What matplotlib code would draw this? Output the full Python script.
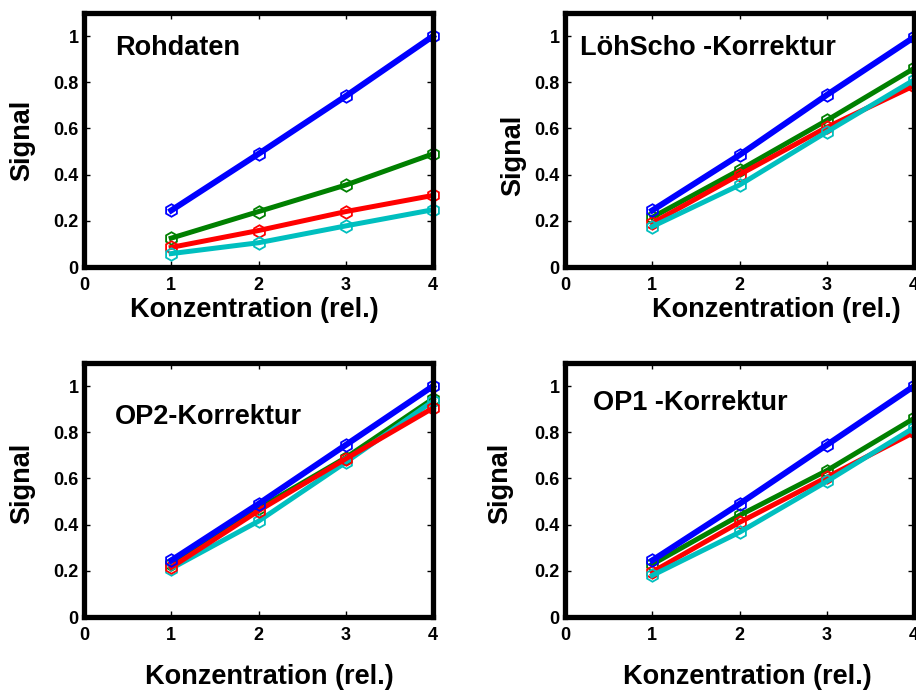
import numpy as np
import matplotlib.pyplot as plt

plt.rcParams['font.family'] = ['Liberation Sans', 'DejaVu Sans']
plt.rcParams['font.weight'] = 'bold'

konz = [1, 2, 3, 4]

# Rohdaten
roh_blau = [0.245, 0.49, 0.74, 1.0]
roh_gruen = [0.125, 0.24, 0.355, 0.49]
roh_rot = [0.085, 0.158, 0.24, 0.31]
roh_cyan = [0.058, 0.105, 0.178, 0.248]

# LoehScho-Korrektur
ls_blau = [0.245, 0.485, 0.745, 0.995]
ls_gruen = [0.215, 0.42, 0.635, 0.86]
ls_rot = [0.19, 0.40, 0.605, 0.785]
ls_cyan = [0.175, 0.355, 0.585, 0.81]

# OP2-Korrektur
op2_blau = [0.245, 0.49, 0.745, 1.0]
op2_gruen = [0.23, 0.47, 0.69, 0.945]
op2_rot = [0.215, 0.46, 0.685, 0.905]
op2_cyan = [0.21, 0.415, 0.67, 0.935]

# OP1-Korrektur
op1_blau = [0.245, 0.49, 0.745, 1.0]
op1_gruen = [0.228, 0.44, 0.634, 0.86]
op1_rot = [0.195, 0.41, 0.605, 0.80]
op1_cyan = [0.18, 0.367, 0.587, 0.82]

titel = ["Rohdaten", "LöhScho -Korrektur", "OP2-Korrektur", "OP1 -Korrektur"]

blau, gruen, rot, cyan = (0, 0, 1), (0, 0.5, 0), (1, 0, 0), (0, 0.75, 0.75)

W, H = 916, 693
fig = plt.figure(figsize=(W / 100, H / 100), dpi=100)

# axes boxes in pixels: left, top, right, bottom
boxen = [(84, 13, 433, 267), (565, 13, 914, 267),
         (84, 363, 433, 617), (565, 363, 914, 617)]

daten = [
    [(roh_gruen, gruen), (roh_rot, rot), (roh_cyan, cyan), (roh_blau, blau)],
    [(ls_gruen, gruen), (ls_rot, rot), (ls_cyan, cyan), (ls_blau, blau)],
    [(op2_gruen, gruen), (op2_cyan, cyan), (op2_rot, rot), (op2_blau, blau)],
    [(op1_gruen, gruen), (op1_rot, rot), (op1_cyan, cyan), (op1_blau, blau)],
]

titel_pos = [(115, 48), (580, 48), (115, 417), (593, 403)]
xlabel_pos = [(254, 310), (776, 310), (269, 677), (747, 677)]
ylabel_pos = [(22, 140), (513, 155), (22, 483), (500, 483)]

for i, (l, t, r, b) in enumerate(boxen):
    ax = fig.add_axes([l / W, (H - b) / H, (r - l) / W, (b - t) / H])
    for werte, farbe in daten[i]:
        lw = 4.3 if farbe == blau else 3.6
        ax.plot(konz, werte, color=farbe, lw=lw, marker='h', ms=9,
                mfc='none', mec=farbe, mew=1.3, clip_on=False)
    ax.set_xlim(0, 4)
    ax.set_ylim(0, 1.1)
    ax.set_xticks([0, 1, 2, 3, 4])
    ax.set_yticks([0, 0.2, 0.4, 0.6, 0.8, 1])
    ax.set_yticklabels(["0", "0.2", "0.4", "0.6", "0.8", "1"])
    ax.tick_params(direction='in', top=True, right=True, length=4, width=1,
                   labelsize=13, pad=7)
    ax.tick_params(axis='y', pad=4)
    for lab in ax.get_xticklabels() + ax.get_yticklabels():
        lab.set_fontweight('bold')
    for sp in ax.spines.values():
        sp.set_linewidth(3.8)
    fig.text(titel_pos[i][0] / W, 1 - titel_pos[i][1] / H, titel[i],
             fontsize=19.5, fontweight='bold', ha='left', va='center')
    fig.text(xlabel_pos[i][0] / W, 1 - xlabel_pos[i][1] / H, "Konzentration (rel.)",
             fontsize=19.5, fontweight='bold', ha='center', va='center')
    fig.text(ylabel_pos[i][0] / W, 1 - ylabel_pos[i][1] / H, "Signal",
             fontsize=19.5, fontweight='bold', ha='center', va='center', rotation=90)

plt.savefig("out.png", dpi=100)
